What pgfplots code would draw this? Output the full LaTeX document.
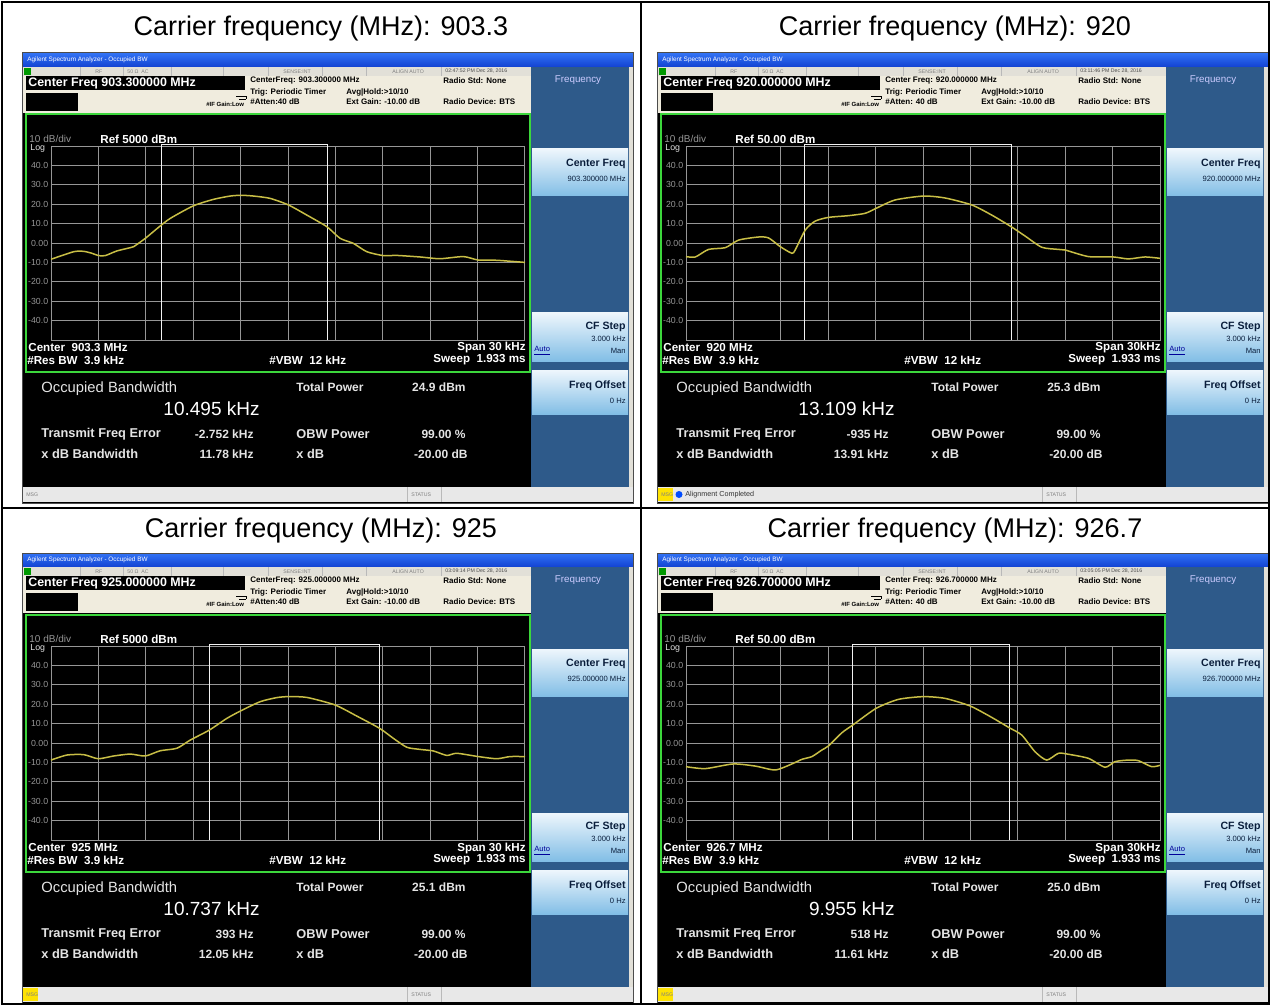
\documentclass[border=0pt]{standalone}
\usepackage{pgfplots}
\pgfplotsset{compat=1.18}
\usepackage{fontspec}
\setmainfont{Liberation Sans}
\definecolor{tbA}{RGB}{18,66,210}
\definecolor{tbB}{RGB}{50,115,245}
\definecolor{srow}{RGB}{226,224,216}
\definecolor{beige}{RGB}{240,236,222}
\definecolor{gb}{RGB}{60,215,60}
\definecolor{rp}{RGB}{46,90,138}
\definecolor{btA}{RGB}{238,246,252}
\definecolor{btB}{RGB}{130,190,230}
\definecolor{trace}{RGB}{200,190,70}
\definecolor{gridc}{RGB}{150,150,150}
\definecolor{lbl}{RGB}{150,150,150}
\definecolor{infot}{RGB}{228,228,228}
\definecolor{navy}{RGB}{10,30,60}
\newcommand{\fz}[1]{\fontsize{#1pt}{#1pt}\selectfont}
\pgfplotsset{specax/.style={scale only axis, width=237pt, height=97pt, anchor=north west,
  xmin=-15, xmax=15, ymin=-50, ymax=50,
  xtick={-12,-9,...,12}, xticklabels={},
  ytick={-40,-30,...,40}, yticklabels={-40.0,-30.0,-20.0,-10.0,0.00,10.0,20.0,30.0,40.0},
  grid=major, major grid style={gridc, line width=0.35pt},
  axis line style={gridc, line width=0.5pt}, tick style={draw=none},
  yticklabel style={font=\fz{4.4}, text=lbl, inner xsep=1.2pt},
  clip=false}}
\tikzset{hdr/.style={anchor=west, inner sep=0, font=\bfseries\fz{4}, text=black},
  st/.style={anchor=west, inner sep=0, font=\fz{2.6}, text=gray},
  wb/.style={inner sep=0, font=\bfseries\fz{5.8}, text=white},
  inf/.style={inner sep=0, font=\bfseries\fz{6.4}, text=infot},
  bt/.style={anchor=east, inner sep=0, text=navy},
  tr/.style={trace, line width=0.75pt, smooth, tension=0.4},
  mk/.style={white!90!gray, line width=0.5pt}}
\newcommand{\panel}[2]{%
\begin{scope}[shift={(#1,#2)}]
\fill[black] (22,53) rectangle (633,503);
\shade[top color=tbB, bottom color=tbA] (22,53) rectangle (633,67);
\node[anchor=west, inner sep=0, text=white, font=\fz{3.2}] at (27,60) {Agilent Spectrum Analyzer - Occupied BW};
\fill[srow] (22,67) rectangle (531,76);
\fill[green!60!black] (24,68) rectangle (31,75);
\foreach \d in {80,123,171,223,268,322,366,441} {\draw[gray!55, line width=0.3pt] (\d,67) -- (\d,76);}
\node[st] at (95,71.5) {RF};
\node[st] at (127,71.5) {50 Ω\ \ AC};
\node[st] at (283,71.5) {SENSE:INT};
\node[st] at (392,71.5) {ALIGN AUTO};
\node[st, text=black!70] at (445,71.5) {\Pdate};
\fill[beige] (22,76) rectangle (531,113);
\fill[black] (26,76) rectangle (245,90);
\node[wb, anchor=west, font=\bfseries\fz{6.2}] at (28,83) {Center Freq \Pcf\ MHz};
\fill[black] (26,93) rectangle (78,111);
\node[hdr] at (250,81) {\Phcf};
\node[hdr] at (250,92) {Trig: Periodic Timer};
\node[hdr] at (346,92) {Avg|Hold:>10/10};
\node[hdr] at (250,102) {\Patt};
\node[hdr] at (346,102) {Ext Gain: -10.00 dB};
\node[hdr] at (443,81) {Radio Std: None};
\node[hdr] at (443,102) {Radio Device: BTS};
\node[hdr, font=\bfseries\fz{3}] at (206,104) {\#IF Gain:Low};
\draw[black, line width=0.4pt] (236,96) -- (246,96) -- (246,99) (239,99) -- (246,99);
\draw[gb, line width=1pt] (25.5,114.5) rectangle (529.5,371.5);
% right panel
\fill[rp] (531,67) rectangle (629,487);
\fill[srow] (629,67) rectangle (633,487);
\shade[top color=btA, bottom color=btB] (532,149) rectangle (628,196);
\shade[top color=btA, bottom color=btB] (532,313) rectangle (628,361);
\shade[top color=btA, bottom color=btB] (532,370) rectangle (628,414);
\node[text=white!80!blue, inner sep=0, font=\fz{4.9}] at (578,80) {Frequency};
\node[bt, font=\bfseries\fz{5.3}] at (626,164) {Center Freq};
\node[bt, font=\fz{3.8}] at (626,179) {\Pcf\ MHz};
\node[bt, font=\bfseries\fz{5.3}] at (626,327) {CF Step};
\node[bt, font=\fz{3.8}] at (626,339) {3.000 kHz};
\node[anchor=west, inner sep=0, font=\fz{3.8}, text=blue!60!black] at (534,351) {\underline{Auto}};
\node[bt, font=\fz{3.8}] at (626,351) {Man};
\node[bt, font=\bfseries\fz{5.3}] at (626,386) {Freq Offset};
\node[bt, font=\fz{3.8}] at (626,401) {0 Hz};
% plot texts
\node[anchor=west, inner sep=0, font=\fz{5}, text=lbl] at (29,139) {10 dB/div};
\node[wb, anchor=west] at (100,139) {\Pref};
\node[anchor=west, inner sep=0, font=\fz{4.4}, text=infot] at (30,148) {Log};
\node[wb, anchor=west] at (28,348) {\Pcen};
\node[wb, anchor=west] at (27,360) {\#Res BW\ \ 3.9 kHz};
\node[wb, anchor=west] at (269,360) {\#VBW\ \ 12 kHz};
\node[wb, anchor=east] at (526,348) {\Pspan};
\node[wb, anchor=east] at (526,360) {\Psw};
% info
\node[anchor=west, inner sep=0, font=\fz{7.4}, text=infot] at (41,389) {Occupied Bandwidth};
\node[anchor=east, inner sep=0, font=\fz{9.5}, text=white] at (260,409) {\Pobw};
\node[inf, anchor=west, font=\bfseries\fz{6}] at (296,387) {Total Power};
\node[inf, anchor=east, font=\bfseries\fz{6}] at (466,387) {\Ptp};
\node[inf, anchor=west] at (41,434) {Transmit Freq Error};
\node[inf, anchor=east, font=\bfseries\fz{6}] at (254,434) {\Ptfe};
\node[inf, anchor=west] at (296,434) {OBW Power};
\node[inf, anchor=east, font=\bfseries\fz{6}] at (466,434) {99.00 \%};
\node[inf, anchor=west] at (41,454) {x dB Bandwidth};
\node[inf, anchor=east, font=\bfseries\fz{6}] at (254,454) {\Pxbw};
\node[inf, anchor=west] at (296,454) {x dB};
\node[inf, anchor=east, font=\bfseries\fz{6}] at (468,454) {-20.00 dB};
% bottom bar
\fill[gray!18] (22,487) rectangle (633,502);
\draw[gray!55, line width=0.3pt] (407,487) -- (407,502) (441,487) -- (441,502);
\Pmsg
\node[st] at (26,494.5) {MSG};
\node[st] at (411,494.5) {STATUS};
\draw[black!70, line width=0.5pt] (22,53) rectangle (633,503);
\end{scope}}
\begin{document}
\begin{tikzpicture}[x=0.5pt, y=-0.5pt]
\fill[white] (0,0) rectangle (1271,1006);
% ---- panel 1
\def\Pdate{02:47:52 PM Dec 28, 2016}\def\Pcf{903.300000}\def\Phcf{CenterFreq: 903.300000 MHz}
\def\Patt{\#Atten:40 dB}\def\Pref{Ref 5000 dBm}\def\Pcen{Center\ \ 903.3 MHz}\def\Pspan{Span 30 kHz}
\def\Psw{Sweep\ \ 1.933 ms}\def\Ptp{24.9 dBm}\def\Pobw{10.495 kHz}\def\Ptfe{-2.752 kHz}\def\Pxbw{11.78 kHz}\def\Pmsg{}
\panel{0}{0}
% ---- panel 2
\def\Pdate{03:11:46 PM Dec 28, 2016}\def\Pcf{920.000000}\def\Phcf{Center Freq: 920.000000 MHz}
\def\Patt{\#Atten: 40 dB}\def\Pref{Ref 50.00 dBm}\def\Pcen{Center\ \ 920 MHz}\def\Pspan{Span 30kHz}
\def\Psw{Sweep\ \ 1.933 ms}\def\Ptp{25.3 dBm}\def\Pobw{13.109 kHz}\def\Ptfe{-935 Hz}\def\Pxbw{13.91 kHz}
\def\Pmsg{\fill[yellow!85!orange] (23,488) rectangle (38,501); \fill[blue!70!cyan] (44,494.5) circle (3.5); \node[anchor=west, inner sep=0, font=\fz{3.6}, text=black!80] at (50,494.5) {Alignment Completed};}
\panel{635}{0}
% ---- panel 3
\def\Pdate{03:09:14 PM Dec 28, 2016}\def\Pcf{925.000000}\def\Phcf{CenterFreq: 925.000000 MHz}
\def\Patt{\#Atten:40 dB}\def\Pref{Ref 5000 dBm}\def\Pcen{Center\ \ 925 MHz}\def\Pspan{Span 30 kHz}
\def\Psw{Sweep\ \ 1.933 ms}\def\Ptp{25.1 dBm}\def\Pobw{10.737 kHz}\def\Ptfe{393 Hz}\def\Pxbw{12.05 kHz}
\def\Pmsg{\fill[yellow!85!orange] (23,488) rectangle (38,501);}
\panel{0}{500}
% ---- panel 4
\def\Pdate{03:05:05 PM Dec 28, 2016}\def\Pcf{926.700000}\def\Phcf{Center Freq: 926.700000 MHz}
\def\Patt{\#Atten: 40 dB}\def\Pref{Ref 50.00 dBm}\def\Pcen{Center\ \ 926.7 MHz}\def\Pspan{Span 30kHz}
\def\Psw{Sweep\ \ 1.933 ms}\def\Ptp{25.0 dBm}\def\Pobw{9.955 kHz}\def\Ptfe{518 Hz}\def\Pxbw{11.61 kHz}
\def\Pmsg{\fill[yellow!85!orange] (23,488) rectangle (38,501);}
\panel{635}{500}
% ---- spectra
\begin{axis}[specax, at={(25.5pt,-73pt)}]
\addplot[mk] coordinates {(-8.0,-50) (-8.0,50.6) (2.5,50.6) (2.5,-50)};
\addplot[tr] coordinates {(-15,-8.4) (-13.57,-4.5) (-12.93,-4.3) (-12.41,-5.3) (-11.99,-6.5) (-11.57,-6.5) (-10.83,-4.1) (-9.98,-2.4) (-9.77,-1.9) (-9.03,2.4) (-8.19,8.1) (-7.45,12.7) (-5.98,19.2) (-4.71,22.5) (-3.66,24.2) (-2.96,24.6) (-2.18,24.2) (-1.13,23.0) (0.03,19.6) (1.19,14.4) (2.46,8.4) (3.30,2.4) (4.14,-0.2) (4.99,-4.5) (6.04,-6.5) (6.88,-6.4) (8.36,-7.2) (9.62,-8.1) (11.10,-7.0) (12.05,-8.8) (13.21,-8.9) (15,-10.0)};
\end{axis}
\begin{axis}[specax, at={(343pt,-73pt)}]
\addplot[mk] coordinates {(-7.49,-50) (-7.49,50.6) (5.62,50.6) (5.62,-50)};
\addplot[tr] coordinates {(-15,-7.0) (-14.41,-7.2) (-13.57,-3.3) (-12.51,-2.4) (-11.67,1.5) (-10.40,3.1) (-9.77,2.6) (-9.03,-1.9) (-8.30,-5.3) (-8.09,-3.6) (-7.45,6.7) (-6.82,11.3) (-5.98,13.2) (-4.71,14.1) (-3.66,15.3) (-2.96,17.9) (-1.76,22.2) (0.03,24.2) (1.40,23.2) (3.09,19.6) (4.35,14.4) (5.58,8.4) (6.46,3.6) (7.52,-2.2) (8.57,-3.3) (8.99,-3.6) (10.47,-7.0) (12.05,-7.2) (13.00,-8.2) (14.05,-7.2) (15,-7.9)};
\end{axis}
\begin{axis}[specax, at={(25.5pt,-323pt)}]
\addplot[mk] coordinates {(-4.975,-50) (-4.975,50.6) (5.76,50.6) (5.76,-50)};
\addplot[tr] coordinates {(-15,-8.8) (-13.99,-6.2) (-12.93,-6.0) (-12.01,-8.1) (-11.04,-6.7) (-9.98,-5.7) (-9.03,-6.7) (-8.09,-4.0) (-7.03,-2.7) (-6.19,1.5) (-4.97,6.7) (-3.87,12.7) (-2.96,16.7) (-1.76,21.3) (-0.71,23.4) (0.03,23.9) (1.19,23.5) (2.98,19.6) (4.35,13.9) (5.79,7.6) (6.67,2.4) (7.52,-2.2) (8.36,-3.3) (9.20,-4.1) (10.05,-6.4) (10.68,-5.3) (12.05,-7.0) (13.21,-8.1) (14.05,-7.0) (15,-7.0)};
\end{axis}
\begin{axis}[specax, at={(343pt,-323pt)}]
\addplot[mk] coordinates {(-4.46,-50) (-4.46,50.6) (5.50,50.6) (5.50,-50)};
\addplot[tr] coordinates {(-15,-12.2) (-13.78,-13.2) (-12.01,-10.8) (-10.61,-11.9) (-9.35,-13.9) (-8.30,-10.8) (-7.66,-8.4) (-7.03,-7.0) (-6.40,-3.6) (-5.98,-1.5) (-5.13,5.3) (-4.44,9.3) (-2.96,17.9) (-1.55,22.5) (0.03,23.9) (1.40,23.0) (2.98,19.1) (4.35,13.2) (5.41,8.1) (6.25,4.1) (7.09,-4.5) (7.83,-8.8) (8.57,-5.3) (9.20,-5.8) (10.47,-7.9) (11.52,-12.5) (12.15,-9.6) (13.00,-8.8) (13.63,-9.1) (14.47,-12.2) (15,-11.5)};
\end{axis}
% ---- titles and frame
\node[font=\fz{13.5}] at (321,29) {Carrier frequency (MHz): 903.3};
\node[font=\fz{13.5}] at (955,29) {Carrier frequency (MHz): 920};
\node[font=\fz{13.5}] at (321,531) {Carrier frequency (MHz): 925};
\node[font=\fz{13.5}] at (955,531) {Carrier frequency (MHz): 926.7};
\draw[black, line width=0.8pt] (2,2) rectangle (1269,1004);
\draw[black, line width=0.8pt] (641,2) -- (641,1004);
\draw[black, line width=0.8pt] (2,508) -- (1269,508);
\end{tikzpicture}
\end{document}
